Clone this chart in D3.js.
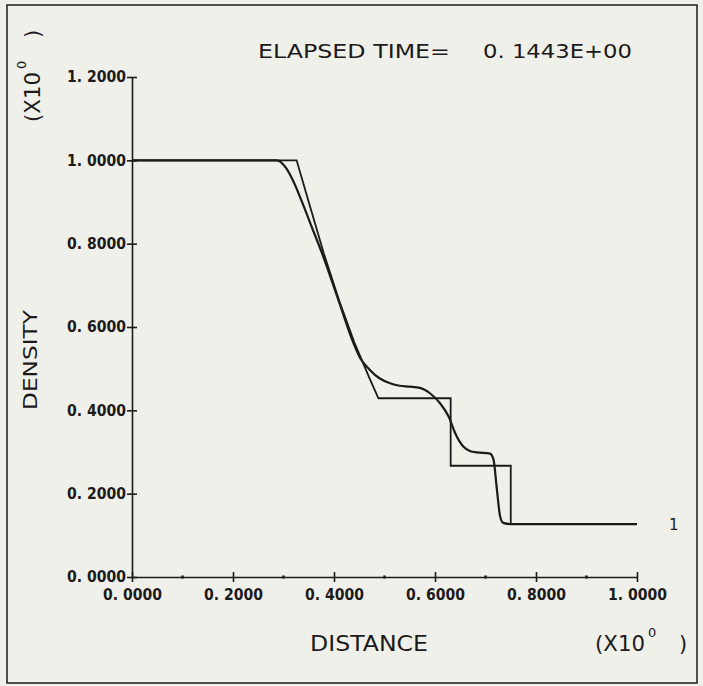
<!DOCTYPE html>
<html>
<head>
<meta charset="utf-8">
<script src="https://cdn.jsdelivr.net/npm/d3@7"></script>
<style>
 html,body{margin:0;padding:0;background:#f0f0ea;}
 svg{display:block;}
 text{font-family:"DejaVu Sans",sans-serif;fill:#1c1a1a;}
</style>
</head>
<body>
<script>
// density profile at the given elapsed time: exact solution (steps) and computed (smooth) curve.
const title=["ELAPSED TIME=","0. 1443E+00"];
const xTicks=[0,0.2,0.4,0.6,0.8,1.0];
const xMinor=[0.1,0.3,0.5,0.7,0.9];
const yTicks=[0,0.2,0.4,0.6,0.8,1.0,1.2];
const exactX=[0,0.326,0.35,0.38,0.41,0.44,0.47,0.488,0.631,0.631,0.750,0.750,1.0];
const exactDensity=[1.0,1.0,0.90,0.776,0.664,0.564,0.478,0.429,0.429,0.267,0.267,0.127,0.127];
const computedX=[0,0.287,0.306,0.319,0.339,0.356,0.38,0.41,0.436,0.452,0.471,0.49,0.511,0.53,0.55,0.57,0.59,0.61,0.627,0.64,0.656,0.67,0.683,0.709,0.716,0.722,0.729,0.735,0.75,1.0];
const computedDensity=[1.0,1.0,0.98,0.951,0.893,0.84,0.765,0.66,0.569,0.525,0.497,0.477,0.465,0.459,0.457,0.454,0.441,0.417,0.385,0.345,0.313,0.302,0.299,0.296,0.281,0.217,0.145,0.13,0.127,0.127];
const curveLabel="1";

const width=703,height=686,ink="#1c1a1a";
const x=d3.scaleLinear([0,1],[132,637]);
const y=d3.scaleLinear([0,1.2],[577,77]);
const label=d=>d.toFixed(4).replace('.','. ');

const svg=d3.select("body").append("svg").attr("width",width).attr("height",height);
svg.append("rect").attr("x",7).attr("y",5).attr("width",690).attr("height",678)
 .attr("fill","none").attr("stroke",ink).attr("stroke-width",1.5);

// axes: ticks cross the axis line
const xAxis=svg.append("g").attr("transform",`translate(0,${y(0)})`)
 .call(d3.axisBottom(x).tickValues(xTicks).tickFormat(label).tickSizeOuter(0).tickSizeInner(5));
const yAxis=svg.append("g").attr("transform",`translate(${x(0)},0)`)
 .call(d3.axisLeft(y).tickValues(yTicks).tickFormat(label).tickSizeOuter(0).tickSizeInner(5).tickPadding(1));
[xAxis,yAxis].forEach(axis=>{
 axis.select(".domain").attr("stroke",ink).attr("stroke-width",1.6);
 axis.selectAll(".tick line").attr("stroke",ink).attr("stroke-width",1.6);
 axis.selectAll(".tick text").attr("font-size",15).attr("font-weight","bold").attr("fill",ink)
 .attr("font-family","DejaVu Sans").attr("textLength",59).attr("lengthAdjust","spacingAndGlyphs");
});
xAxis.selectAll(".tick line").attr("y1",-5).attr("y2",5);
xAxis.selectAll(".tick text").attr("y",12);
yAxis.selectAll(".tick line").attr("x1",-5).attr("x2",5);
yAxis.selectAll(".tick text").attr("x",-6);
xAxis.selectAll(".minor").data(xMinor).join("line").attr("class","minor")
 .attr("x1",x).attr("x2",x).attr("y1",-1.5).attr("y2",1.5).attr("stroke",ink).attr("stroke-width",2.5);

// curves
const line=(xs,ys,curve)=>d3.line().x(i=>x(xs[i])).y(i=>y(ys[i])).curve(curve)(d3.range(xs.length));
svg.append("path").attr("d",line(exactX,exactDensity,d3.curveLinear))
 .attr("fill","none").attr("stroke",ink).attr("stroke-width",1.8).attr("stroke-linejoin","miter");
svg.append("path").attr("d",line(computedX,computedDensity,d3.curveMonotoneX))
 .attr("fill","none").attr("stroke",ink).attr("stroke-width",2.2);
svg.append("text").attr("x",x(1)+32).attr("y",y(computedDensity.at(-1))+6)
 .attr("font-size",15).text(curveLabel);

// title and axis titles
svg.append("text").attr("x",258).attr("y",58).attr("font-size",19)
 .attr("textLength",192).attr("lengthAdjust","spacingAndGlyphs").text(title[0]);
svg.append("text").attr("x",483).attr("y",58).attr("font-size",19)
 .attr("textLength",149).attr("lengthAdjust","spacingAndGlyphs").text(title[1]);
svg.append("text").attr("x",369).attr("y",651).attr("text-anchor","middle").attr("font-size",22)
 .attr("textLength",118).attr("lengthAdjust","spacingAndGlyphs").text("DISTANCE");
svg.append("text").attr("transform","translate(37,360) rotate(-90)").attr("text-anchor","middle")
 .attr("font-size",20).attr("textLength",100).attr("lengthAdjust","spacingAndGlyphs").text("DENSITY");

const scale=(g)=>{
 g.append("text").attr("font-size",21).attr("textLength",50).attr("lengthAdjust","spacingAndGlyphs").text("(X10");
 g.append("text").attr("x",53).attr("y",-14).attr("font-size",13).text("0");
 g.append("text").attr("x",84).attr("font-size",21).text(")");
};
svg.append("g").attr("transform","translate(595,651)").call(scale);
svg.append("g").attr("transform","translate(40,122) rotate(-90)").call(scale);
</script>
</body>
</html>
